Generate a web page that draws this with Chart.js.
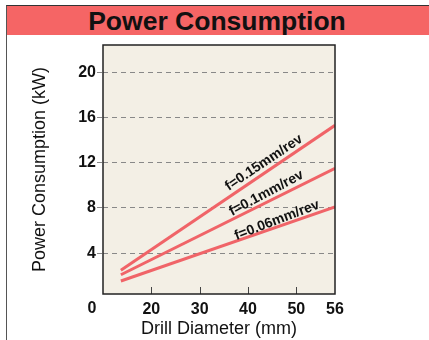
<!DOCTYPE html>
<html>
<head>
<meta charset="utf-8">
<script src="https://cdn.jsdelivr.net/npm/chart.js@4/dist/chart.umd.min.js"></script>
<style>
  body { margin: 0; background: #fff; }
  #wrap { position: relative; width: 429px; height: 340px; overflow: hidden; }
  #frame { position: absolute; left: 6px; top: 5px; right: 0; bottom: 0;
           border-left: 1.5px solid #555; border-top: 1.5px solid #333; }
  #banner { position: absolute; left: 7px; top: 6px; right: 0; height: 29px;
            background: #f56565; text-align: center; font: bold 26.5px "Liberation Sans", Arial, sans-serif;
            line-height: 30px; color: #111; padding-right: 2px; }
  canvas { position: absolute; left: 0; top: 0; }
</style>
</head>
<body>
<div id="wrap">
  <div id="frame"></div>
  <div id="banner">Power Consumption</div>
  <canvas id="chart" width="429" height="340"></canvas>
</div>
<script>
// === Data ===
const seriesNames = ["f=0.15mm/rev", "f=0.1mm/rev", "f=0.06mm/rev"];
const diameter = [13.7, 58];          // line start / right edge of plot
const feed015 = [2.5, 15.3];
const feed010 = [2.1, 11.5];
const feed006 = [1.55, 8.1];
const xTicks = [20, 30, 40, 50, 58];
const xTickLabels = ["20", "30", "40", "50", "56"];
const yTicks = [4, 8, 12, 16, 20];

// label placement along each line (x value, y value, angle in degrees)
const labelPos = [
  [43.3, 12.0, -34],
  [43.8, 9.3, -28],
  [46.0, 6.9, -21]
];

const lineColor = "#f06468";
const fontFam = "'Liberation Sans', Arial, sans-serif";

function toPoints(ys) {
  return ys.map((y, i) => ({ x: diameter[i], y: y }));
}

// === Plot frame, inner x ticks, corner "0", line labels ===
const decorPlugin = {
  id: "decor",
  beforeDraw(chart) {
    const a = chart.chartArea, ctx = chart.ctx;
    ctx.save();
    ctx.fillStyle = "#f3efe5";
    ctx.fillRect(a.left, a.top, a.right - a.left, a.bottom - a.top);
    ctx.restore();
  },
  afterDatasetsDraw(chart) {
    const a = chart.chartArea, ctx = chart.ctx;
    const xs = chart.scales.x, ys = chart.scales.y;
    ctx.save();
    // inner tick marks on the x axis
    ctx.strokeStyle = "#444";
    ctx.lineWidth = 1;
    xTicks.slice(0, 4).forEach(v => {
      const px = Math.round(xs.getPixelForValue(v)) + 0.5;
      ctx.beginPath();
      ctx.moveTo(px, a.bottom);
      ctx.lineTo(px, a.bottom - 7);
      ctx.stroke();
    });
    // frame
    ctx.strokeStyle = "#222";
    ctx.lineWidth = 1.5;
    ctx.strokeRect(a.left, a.top, a.right - a.left, a.bottom - a.top);
    // corner zero
    ctx.fillStyle = "#111";
    ctx.font = "bold 16px " + fontFam;
    ctx.textAlign = "center";
    ctx.textBaseline = "middle";
    ctx.fillText("0", 92, a.bottom + 15);
    // line labels
    ctx.font = "bold 14px " + fontFam;
    labelPos.forEach((p, i) => {
      ctx.save();
      ctx.translate(xs.getPixelForValue(p[0]), ys.getPixelForValue(p[1]));
      ctx.rotate(p[2] * Math.PI / 180);
      ctx.fillText(seriesNames[i], 0, 0);
      ctx.restore();
    });
    ctx.restore();
  }
};

const ctx = document.getElementById("chart").getContext("2d");
new Chart(ctx, {
  type: "line",
  data: {
    datasets: [feed015, feed010, feed006].map((d, i) => ({
      label: seriesNames[i],
      data: toPoints(d),
      borderColor: lineColor,
      borderWidth: 3,
      pointRadius: 0,
      fill: false
    }))
  },
  options: {
    responsive: false,
    animation: false,
    layout: { padding: { left: 29, top: 45, right: 94, bottom: 0 } },
    plugins: { legend: { display: false }, tooltip: { enabled: false } },
    scales: {
      x: {
        type: "linear",
        min: 10,
        max: 58,
        afterBuildTicks: s => { s.ticks = xTicks.map(v => ({ value: v })); },
        afterFit: s => { s.height = 46; },
        grid: { display: false, drawTicks: false },
        border: { display: false },
        ticks: {
          color: "#111",
          font: { family: fontFam, size: 16, weight: "bold" },
          padding: 6,
          maxRotation: 0,
          autoSkip: false,
          callback: (v, i) => xTickLabels[i]
        },
        title: {
          display: true,
          text: "Drill Diameter (mm)",
          color: "#111",
          font: { family: fontFam, size: 18 },
          padding: { top: 0, bottom: 0 }
        }
      },
      y: {
        min: 0.4,
        max: 22.4,
        afterBuildTicks: s => { s.ticks = yTicks.map(v => ({ value: v })); },
        afterFit: s => { s.width = 74; },
        border: { display: false, dash: [5, 4] },
        grid: {
          color: "#888",
          lineWidth: 1,
          tickBorderDash: [5, 4],
          tickColor: "#888",
          tickLength: 6
        },
        ticks: {
          color: "#111",
          font: { family: fontFam, size: 16, weight: "bold" },
          padding: 1
        },
        title: {
          display: true,
          text: "Power Consumption (kW)",
          color: "#111",
          font: { family: fontFam, size: 18 },
          padding: { top: 0, bottom: 0 }
        }
      }
    }
  },
  plugins: [decorPlugin]
});
</script>
</body>
</html>
